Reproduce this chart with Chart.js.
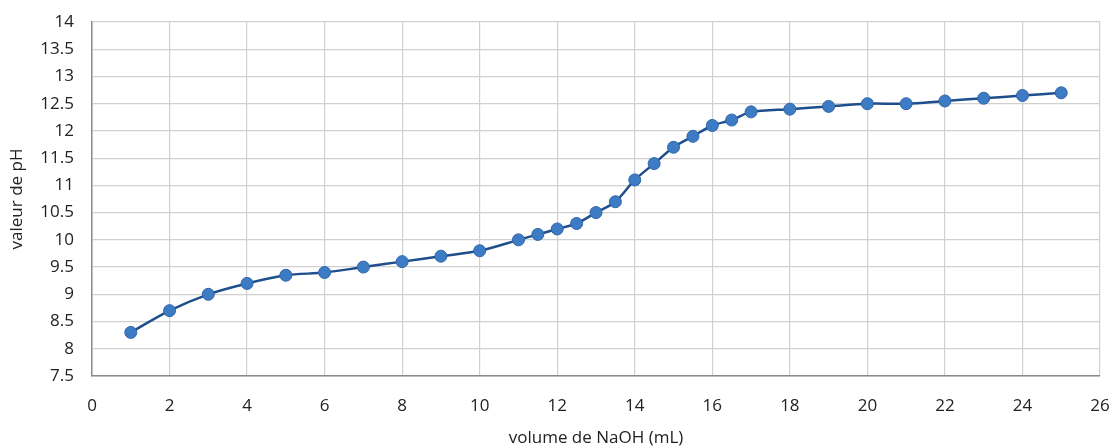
<!DOCTYPE html>
<html lang="fr">
<head>
    <meta charset="UTF-8">
    <title>Courbe de titrage</title>
    <script src="https://cdn.jsdelivr.net/npm/chart.js"></script>
    <style>
        body {
            margin: 0;
            background-color: #ffffff;
        }
        #chart-container {
            width: 1114px;
            height: 448px;
        }
    </style>
</head>
<body>
    <div id="chart-container">
        <canvas id="chart"></canvas>
    </div>

    <script>
        // volume de NaOH (mL) et pH mesuré
        var volumes = [1, 2, 3, 4, 5, 6, 7, 8, 9, 10, 11, 11.5, 12, 12.5, 13, 13.5, 14, 14.5, 15, 15.5, 16, 16.5, 17, 18, 19, 20, 21, 22, 23, 24, 25];
        var phValues = [8.3, 8.7, 9.0, 9.2, 9.35, 9.4, 9.5, 9.6, 9.7, 9.8, 10.0, 10.1, 10.2, 10.3, 10.5, 10.7, 11.1, 11.4, 11.7, 11.9, 12.1, 12.2, 12.35, 12.4, 12.45, 12.5, 12.5, 12.55, 12.6, 12.65, 12.7];

        var xTitle = 'volume de NaOH (mL)';
        var yTitle = 'valeur de pH';

        var points = volumes.map(function(v, i) {
            return { x: v, y: phValues[i] };
        });

        var tickFont = { family: 'Open Sans', size: 17 };
        var titleFont = { family: 'Open Sans', size: 17 };

        // keep the plot area where the reference has it
        function noEdgePadding(axis) {
            axis.paddingLeft = 0;
            axis.paddingRight = 0;
            axis.paddingTop = 0;
            axis.paddingBottom = 0;
        }

        new Chart(document.getElementById('chart'), {
            type: 'line',
            data: {
                datasets: [{
                    data: points,
                    borderColor: '#1f4e8c',
                    borderWidth: 2.5,
                    pointRadius: 6,
                    pointBackgroundColor: '#3d7cc4',
                    pointBorderColor: '#2f65a8',
                    pointBorderWidth: 1,
                    tension: 0.3,
                    fill: false
                }]
            },
            options: {
                responsive: true,
                maintainAspectRatio: false,
                animation: false,
                layout: {
                    padding: { top: 22, right: 14, bottom: 0, left: 0 }
                },
                plugins: {
                    legend: { display: false },
                    tooltip: { enabled: false }
                },
                scales: {
                    x: {
                        type: 'linear',
                        min: 0,
                        max: 26,
                        ticks: {
                            stepSize: 2,
                            color: '#222222',
                            font: tickFont,
                            padding: 20
                        },
                        grid: {
                            color: '#d0d0d0',
                            lineWidth: 1.2,
                            drawTicks: false
                        },
                        border: { color: '#8c8c8c', width: 1.5 },
                        title: {
                            display: true,
                            text: xTitle,
                            color: '#222222',
                            font: titleFont,
                            padding: { top: 0, bottom: 0 }
                        },
                        afterFit: function(axis) {
                            axis.height = 72;
                            noEdgePadding(axis);
                        }
                    },
                    y: {
                        min: 7.5,
                        max: 14,
                        ticks: {
                            stepSize: 0.5,
                            color: '#222222',
                            font: tickFont,
                            padding: 18,
                            callback: function(value) { return String(value); }
                        },
                        grid: {
                            color: '#d0d0d0',
                            lineWidth: 1.2,
                            drawTicks: false
                        },
                        border: { color: '#8c8c8c', width: 1.5 },
                        title: {
                            display: true,
                            text: yTitle,
                            color: '#222222',
                            font: titleFont,
                            padding: { top: 7, bottom: 0 }
                        },
                        afterFit: function(axis) {
                            axis.width = 92;
                            noEdgePadding(axis);
                        }
                    }
                }
            }
        });
    </script>
</body>
</html>
